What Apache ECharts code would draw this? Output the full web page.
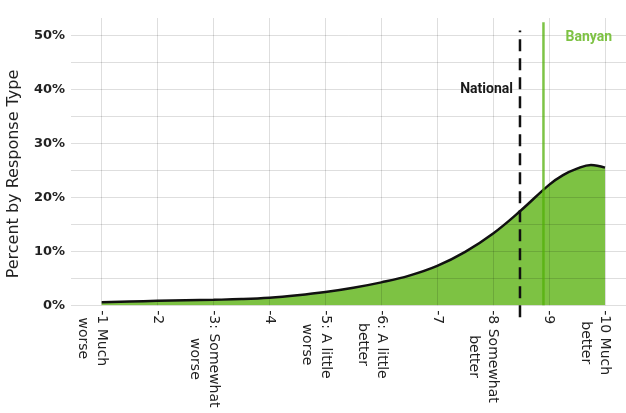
<!DOCTYPE html>
<html><head><meta charset="utf-8">
<script src="https://cdn.jsdelivr.net/npm/echarts@6/dist/echarts.min.js"></script>
<style>html,body{margin:0;padding:0;background:#fff}#c{width:626px;height:413px}</style>
</head><body><div id="c"></div>
<script>
const curveX = [1, 1.5, 2, 2.5, 3, 3.5, 4, 4.5, 5, 5.5, 6, 6.5, 7, 7.5, 8, 8.5, 9, 9.25, 9.5, 9.75, 10];
const curveY = [0.55, 0.7, 0.82, 0.92, 1.02, 1.15, 1.4, 1.85, 2.45, 3.25, 4.25, 5.5, 7.3, 9.9, 13.3, 17.6, 22.3, 24.1, 25.3, 26.0, 25.5];
const xTickValues = [1, 2, 3, 4, 5, 6, 7, 8, 9, 10];
const xTickLabels = ['-1 Much\nworse', '-2', '-3: Somewhat\nworse', '-4', '-5: A little\nworse', '-6: A little\nbetter', '-7', '-8 Somewhat\nbetter', '-9', '-10 Much\nbetter'];
const yGridValues = [0, 5, 10, 15, 20, 25, 30, 35, 40, 45, 50];
const yLabelValues = [0, 10, 20, 30, 40, 50];
const nationalX = 8.48;
const nationalSpan = [-2.2, 50.9];
const banyanX = 8.9;
const banyanSpan = [0, 52.4];
const yTitle = 'Percent by Response Type';

const GREEN = '#7DC243';
const GRID = 'rgba(0,0,0,0.13)';
const curveData = curveX.map((x, i) => [x, curveY[i]]);

const chart = echarts.init(document.getElementById('c'), null, {renderer: 'canvas'});
chart.setOption({
  animation: false,
  backgroundColor: '#fff',
  grid: {left: 71, top: 18, right: 0, height: 287.3, containLabel: false},
  xAxis: {
    type: 'value', min: 0.451, max: 10.376, z: 3,
    axisLine: {show: false},
    axisTick: {show: false, customValues: xTickValues},
    splitLine: {show: true, lineStyle: {color: GRID, width: 1}},
    axisLabel: {
      customValues: xTickValues,
      rotate: -90, margin: 5, padding: [19, 0, 0, 0],
      formatter: function (v) {
        const i = xTickValues.indexOf(Math.round(v));
        const lines = xTickLabels[i].split('\n');
        if (lines.length === 1) lines.push('\u00a0');
        return lines.map(l => '{a|' + l + '}').join('\n');
      },
      rich: {a: {align: 'center', fontSize: 14, lineHeight: 19, fontFamily: 'DejaVu Sans', color: '#222'}}
    }
  },
  yAxis: {
    type: 'value', min: 0, max: 53.2, z: 3,
    axisLine: {show: false},
    axisTick: {show: false, customValues: yGridValues},
    splitLine: {show: true, lineStyle: {color: GRID, width: 1}},
    axisLabel: {
      customValues: yLabelValues, formatter: '{value}%', margin: 6,
      fontFamily: 'DejaVu Sans', fontWeight: 'bold', fontSize: 13, color: '#222'
    }
  },
  graphic: [{
    type: 'text', x: 14, y: 174, rotation: Math.PI / 2,
    style: {text: yTitle, align: 'center', verticalAlign: 'middle', fontFamily: 'DejaVu Sans', fontSize: 16, fill: '#222'}
  }],
  series: [
    {type: 'line', data: curveData, smooth: 0.4, symbol: 'none', z: 1,
     lineStyle: {width: 0}, areaStyle: {color: GREEN, opacity: 1}},
    {type: 'line', data: curveData, smooth: 0.4, symbol: 'none', z: 5,
     lineStyle: {color: '#111', width: 2.5}},
    {type: 'line', data: [[nationalX, nationalSpan[0]], [nationalX, nationalSpan[1]]], symbol: 'none', z: 6, clip: false,
     lineStyle: {color: '#111', width: 2.5, type: [12, 7]},
     markPoint: {symbol: 'circle', symbolSize: 0, silent: true,
       data: [{coord: [nationalX, 39.9]}],
       label: {show: true, formatter: 'National', position: 'left', distance: 7, fontFamily: 'Roboto', fontWeight: 'bold', fontSize: 14, color: '#1a1a1a'}}},
    {type: 'line', data: [[banyanX, banyanSpan[0]], [banyanX, banyanSpan[1]]], symbol: 'none', z: 6, clip: false,
     lineStyle: {color: 'rgba(82,175,8,0.75)', width: 2.5},
     markPoint: {symbol: 'circle', symbolSize: 0, silent: true,
       data: [{coord: [banyanX, 49.6]}],
       label: {show: true, formatter: 'Banyan', position: 'right', distance: 22, fontFamily: 'Roboto', fontWeight: 'bold', fontSize: 14, color: GREEN}}}
  ]
});
</script>
</body></html>
